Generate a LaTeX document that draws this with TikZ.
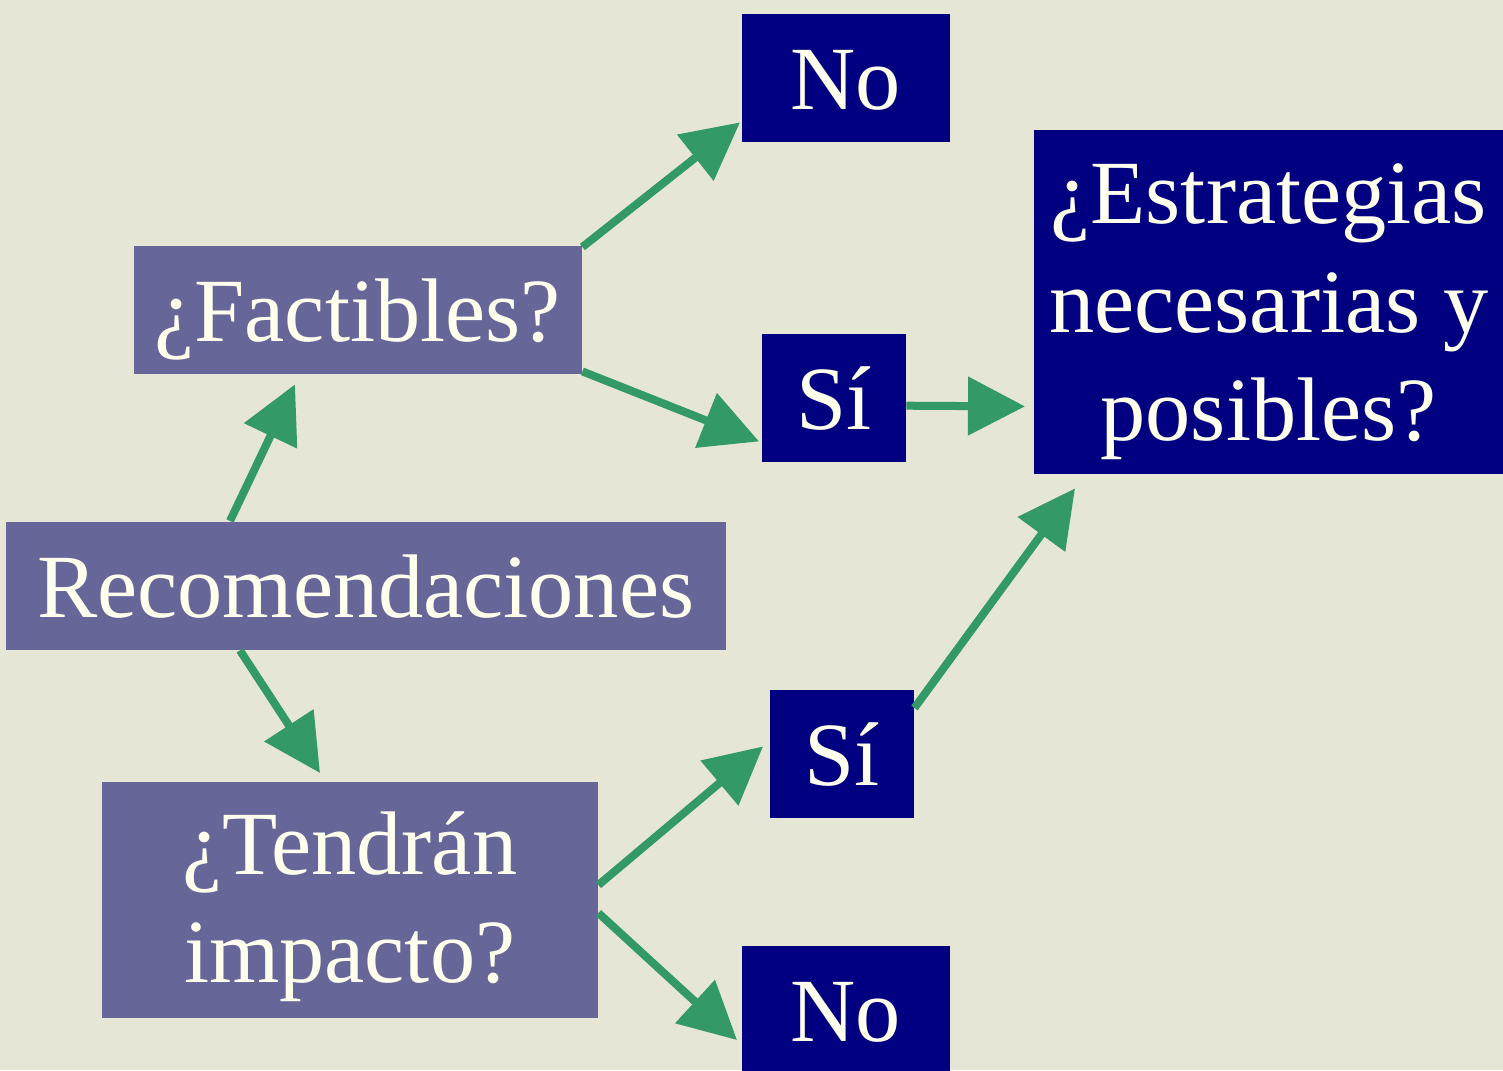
\documentclass[tikz,border=0pt]{standalone}
\usepackage{fontspec}
\setmainfont{Liberation Serif}
\usepackage{xcolor}
\usetikzlibrary{arrows.meta}
\definecolor{fondo}{HTML}{E6E6D6}
\definecolor{lila}{HTML}{666699}
\definecolor{marino}{HTML}{000080}
\definecolor{verde}{HTML}{339966}
\definecolor{crema}{HTML}{FFFFEE}

\begin{document}
\begin{tikzpicture}[x=0.1mm,y=-0.1mm,
  arr/.style={draw=verde, line width=0.8mm, -{Triangle[length=5.7mm,width=5.7mm]}, verde}]
\tikzstyle{caja}=[anchor=north west, inner sep=0pt, text=crema, align=center,
  font=\fontsize{25.7}{30.9}\selectfont]
\tikzstyle{pregunta}=[caja, fill=lila]
\tikzstyle{resp}=[caja, fill=marino]
\tikzstyle{una}=[text height=6.3mm, text depth=0pt]
\fill[fondo] (0,0) rectangle (1503,1070);
\useasboundingbox (0,0) rectangle (1503,1070);
\node[pregunta, una, minimum width=72mm, minimum height=12.8mm] (rec) at (5,521){Recomendaciones};
\node[pregunta, una, minimum width=44.8mm, minimum height=12.8mm] (fac) at (133,245){¿Factibles?};
\node[pregunta, text height=16.6mm, text depth=0pt, minimum width=49.6mm, minimum height=23.6mm] (ten) at (101,781){¿Tendrán\\impacto?};
\node[resp, una, minimum width=20.8mm, minimum height=12.8mm] (no1) at (741,13){No};
\node[resp, una, minimum width=14.4mm, minimum height=12.8mm] (si1) at (761,333){Sí};
\node[resp, una, minimum width=14.4mm, minimum height=12.8mm] (si2) at (769,689){Sí};
\node[resp, una, minimum width=20.8mm, minimum height=12.8mm] (no2) at (741,945){No};
\node[resp, text height=27.8mm, text depth=0pt, minimum width=47mm, minimum height=34.4mm] (est) at (1033,129){¿Estrategias\\necesarias y\\posibles?};
% flechas
\draw[arr] ([xshift=22.5mm]rec.north west) -- ([xshift=16.2mm,yshift=-1mm]fac.south west);
\draw[arr] ([xshift=23.5mm]rec.south west) -- ([xshift=21.9mm,yshift=0.8mm]ten.north west);
\draw[arr] ([yshift=-0.2mm]fac.north east) -- ([xshift=-0.1mm,yshift=2mm]no1.south west);
\draw[arr] ([yshift=0.3mm]fac.south east) -- ([xshift=-0.2mm,yshift=2.1mm]si1.south west);
\draw[arr] ([yshift=-0.8mm]si1.east) -- ([xshift=-0.8mm,yshift=6.8mm]est.south west);
\draw[arr] ([yshift=-1.9mm]si2.north east) -- ([xshift=4.2mm,yshift=-1.4mm]est.south west);
\draw[arr] ([yshift=-10.4mm]ten.north east) -- ([xshift=-0.6mm,yshift=7.2mm]si2.south west);
\draw[arr] ([yshift=-13.2mm]ten.north east) -- ([xshift=-0.4mm,yshift=-9.5mm]no2.north west);
\end{tikzpicture}
\end{document}
